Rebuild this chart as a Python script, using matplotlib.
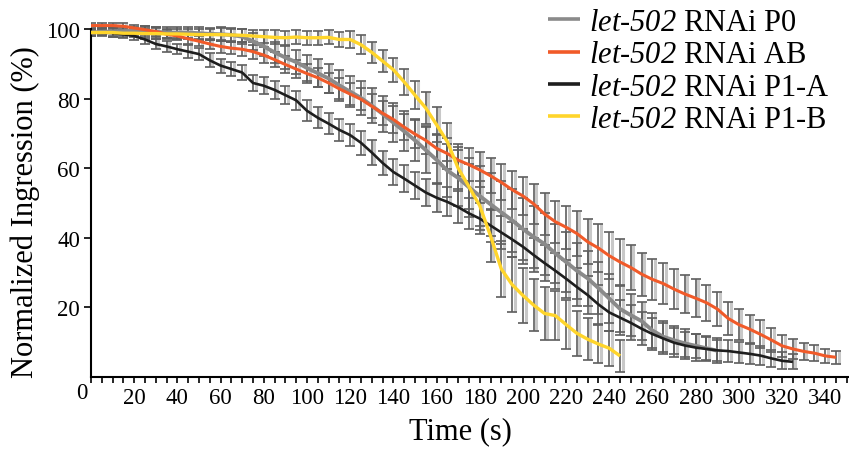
import numpy as np
import matplotlib
matplotlib.use("Agg")
import matplotlib.pyplot as plt
from matplotlib.ticker import MultipleLocator

plt.rcParams["font.family"] = ["Liberation Serif", "DejaVu Serif"]
# math segments are used only for the italic gene name
plt.rcParams["mathtext.fontset"] = "custom"
plt.rcParams["mathtext.it"] = "Liberation Serif:italic"
plt.rcParams["mathtext.rm"] = "Liberation Serif:italic"

# ---- data: normalized furrow ingression (%) vs time (s), mean and error ----
t_p0 = np.arange(0, 295, 5)
p0 = [99.0, 99.2, 99.3, 99.4, 99.5, 99.3, 99.2, 99.0, 99.0, 99.0,
      98.8, 98.6, 98.5, 98.3, 97.8, 96.5, 95.0, 93.3, 91.8, 90.5,
      88.8, 87.3, 85.8, 83.8, 82.0, 80.2, 78.0, 75.6, 73.1, 70.6,
      68.0, 65.2, 62.4, 59.3, 57.2, 54.5, 52.0, 49.6, 47.3, 45.0,
      42.5, 40.2, 38.2, 35.5, 33.0, 30.5, 28.3, 25.5, 22.5, 19.5,
      17.7, 16.0, 13.3, 11.5, 10.5, 9.6, 8.9, 8.2, 7.5]
p0_err = [1.0, 1.0, 1.2, 1.2, 1.2, 1.5, 1.5, 1.5, 1.5, 1.5,
          1.8, 1.8, 2.0, 2.0, 2.2, 2.5, 2.8, 3.0, 3.2, 3.5,
          3.8, 4.0, 4.2, 4.5, 4.5, 4.8, 5.0, 5.2, 5.5, 5.8,
          6.0, 6.5, 7.0, 7.5, 8.0, 8.5, 8.5, 9.0, 9.0, 9.0,
          9.0, 9.0, 8.8, 8.5, 8.5, 8.0, 8.0, 7.5, 7.0, 6.5,
          6.0, 5.5, 5.0, 4.5, 4.0, 4.0, 3.5, 3.5, 3.0]

t_ab = np.arange(0, 350, 5)
ab = [101.0, 101.0, 101.0, 100.8, 100.3, 99.8, 99.3, 98.5, 98.0, 97.2,
      96.5, 95.7, 95.0, 94.5, 94.2, 93.5, 92.5, 91.2, 89.8, 88.5,
      87.2, 86.0, 84.5, 82.8, 81.3, 79.8, 77.8, 75.8, 74.0, 71.8,
      69.8, 68.0, 65.7, 64.2, 62.3, 61.0, 59.5, 57.8, 55.9, 53.8,
      52.0, 49.7, 46.8, 44.6, 43.0, 41.2, 38.8, 37.0, 34.8, 33.0,
      31.4, 29.5, 28.0, 26.8, 25.2, 23.8, 22.6, 21.3, 19.5, 16.8,
      15.0, 13.7, 12.2, 10.6, 8.9, 8.0, 7.3, 6.8, 6.0, 5.6]
ab_err = [0.8, 0.8, 0.8, 1.0, 1.0, 1.0, 1.2, 1.2, 1.2, 1.5,
          1.5, 1.5, 1.8, 1.8, 2.0, 2.0, 2.2, 2.2, 2.5, 2.5,
          2.8, 2.8, 3.0, 3.0, 3.2, 3.2, 3.5, 3.5, 3.8, 3.8,
          4.0, 4.0, 4.2, 4.5, 4.5, 4.8, 5.0, 5.0, 5.2, 5.5,
          5.5, 5.8, 6.0, 6.0, 6.2, 6.5, 6.5, 6.8, 6.8, 6.5,
          6.5, 6.2, 6.0, 6.0, 5.8, 5.5, 5.5, 5.2, 5.0, 4.8,
          4.5, 4.2, 4.0, 3.5, 3.2, 3.0, 2.5, 2.2, 2.0, 1.8]

t_p1a = np.arange(0, 330, 5)
p1a = [99.0, 99.0, 98.8, 98.5, 98.0, 97.0, 95.7, 95.0, 94.2, 93.5,
       92.8, 91.0, 89.5, 88.5, 87.5, 84.5, 83.7, 82.5, 81.0, 79.5,
       76.5, 74.5, 72.8, 71.0, 69.5, 67.3, 64.5, 61.5, 58.9, 57.0,
       55.0, 53.0, 51.5, 50.3, 48.8, 47.0, 45.5, 43.5, 41.5, 39.5,
       37.4, 35.0, 32.7, 30.5, 28.2, 25.8, 23.5, 20.8, 18.5, 17.0,
       15.5, 13.8, 12.3, 11.0, 9.8, 9.0, 8.4, 8.0, 7.6, 7.4,
       7.0, 6.6, 6.1, 5.3, 4.6, 4.3]
p1a_err = [0.8, 0.8, 1.0, 1.0, 1.2, 1.2, 1.5, 1.5, 1.5, 1.8,
           1.8, 2.0, 2.0, 2.0, 2.2, 2.2, 2.5, 2.5, 2.5, 2.8,
           3.0, 3.0, 3.0, 3.2, 3.2, 3.5, 3.5, 3.5, 3.8, 3.8,
           4.0, 4.0, 4.2, 4.2, 4.5, 4.5, 4.5, 4.8, 4.8, 5.0,
           5.0, 5.0, 5.2, 5.2, 5.5, 5.5, 5.5, 5.5, 5.2, 5.0,
           5.0, 4.8, 4.5, 4.5, 4.2, 4.0, 3.8, 3.5, 3.5, 3.2,
           3.0, 3.0, 2.8, 2.5, 2.5, 2.2]

t_p1b = np.arange(0, 250, 5)
p1b = [99.0, 99.0, 99.0, 98.8, 98.8, 98.7, 98.7, 98.6, 98.6, 98.5,
       98.4, 98.4, 98.4, 98.3, 98.2, 98.0, 97.8, 97.6, 97.5, 97.7,
       97.5, 97.5, 97.6, 97.0, 97.0, 95.5, 93.3, 90.8, 88.3, 84.8,
       81.0, 77.3, 72.5, 67.6, 60.0, 54.7, 49.2, 40.5, 31.0, 26.5,
       23.4, 20.6, 18.2, 17.6, 15.0, 12.5, 10.8, 9.4, 8.2, 6.0]
p1b_err = [1.0, 1.0, 1.2, 1.2, 1.2, 1.5, 1.5, 1.5, 1.5, 1.5,
           1.5, 1.5, 1.8, 1.8, 1.8, 1.8, 1.8, 2.0, 2.0, 2.0,
           2.0, 2.0, 2.0, 2.2, 2.5, 2.8, 3.0, 3.2, 3.5, 3.8,
           4.0, 4.5, 5.0, 5.5, 6.0, 6.5, 7.0, 7.5, 8.0, 8.0,
           8.0, 7.5, 7.5, 7.0, 7.0, 6.5, 6.0, 5.5, 5.0, 4.5]

labels = [r"$\mathrm{let}$-$\mathrm{502}$ RNAi P0",
          r"$\mathrm{let}$-$\mathrm{502}$ RNAi AB",
          r"$\mathrm{let}$-$\mathrm{502}$ RNAi P1-A",
          r"$\mathrm{let}$-$\mathrm{502}$ RNAi P1-B"]
x_ticks = [20, 40, 60, 80, 100, 120, 140, 160, 180, 200, 220, 240, 260,
           280, 300, 320, 340]
y_ticks = [20, 40, 60, 80, 100]

series = [
    (t_p0, p0, p0_err, "#8a8a8a", 2.8, 3),
    (t_p1a, p1a, p1a_err, "#1e1e1e", 1.9, 4),
    (t_ab, ab, ab_err, "#f15a29", 2.2, 5),
    (t_p1b, p1b, p1b_err, "#ffd52b", 2.4, 6),
]

fig = plt.figure(figsize=(8.49, 4.52), dpi=100)
ax = fig.add_axes([0.1072, 0.1642, 0.8928, 0.7924])

handles = []
for t, y, e, color, lw, z in series:
    t = np.asarray(t, dtype=float)
    y = np.asarray(y, dtype=float)
    e = np.asarray(e, dtype=float)
    # soft shadow bar next to each error bar
    ax.vlines(t + 1.2, y - e, y + e, color="#c8c8c8", lw=2.2, zorder=1)
    ax.errorbar(t, y, yerr=e, fmt="none", ecolor="#5e5e5e", elinewidth=1.2,
                capsize=3.5, capthick=1.2, zorder=2)
    h, = ax.plot(t, y, color=color, lw=lw, zorder=z, solid_capstyle="butt")
    handles.append(h)

ax.set_xlim(0, 351)
ax.set_ylim(0, 103)
ax.spines["top"].set_visible(False)
ax.spines["right"].set_visible(False)
ax.spines["left"].set_bounds(0, 100)
for s in ("left", "bottom"):
    ax.spines[s].set_linewidth(1.5)

ax.set_xticks(x_ticks)
ax.xaxis.set_minor_locator(MultipleLocator(5))
ax.set_yticks(y_ticks)
ax.tick_params(axis="x", which="both", direction="out", length=4.5, width=1.2,
               labelsize=16.5, pad=3)
ax.tick_params(axis="y", which="major", direction="out", length=5, width=1.2,
               labelsize=16.5, pad=3)
ax.annotate("0", xy=(0, 0), xycoords="data", xytext=(-6.5, -11.5),
            textcoords="offset points", ha="center", va="center", fontsize=16.5)

ax.set_xlabel("Time (s)", fontsize=22)
ax.set_ylabel("Normalized Ingression (%)", fontsize=22)
ax.xaxis.set_label_coords(0.488, -0.109)
ax.yaxis.set_label_coords(-0.067, 0.463)

order = [0, 2, 1, 3]
leg = fig.legend([handles[i] for i in order], labels, loc="upper left",
                 bbox_to_anchor=(0.645, 0.98), frameon=False, fontsize=22,
                 handlelength=1.07, handletextpad=0.3, labelspacing=0.11,
                 borderpad=0, borderaxespad=0)
for line in leg.get_lines():
    line.set_linewidth(2.6)

fig.savefig("out.png", dpi=100)
